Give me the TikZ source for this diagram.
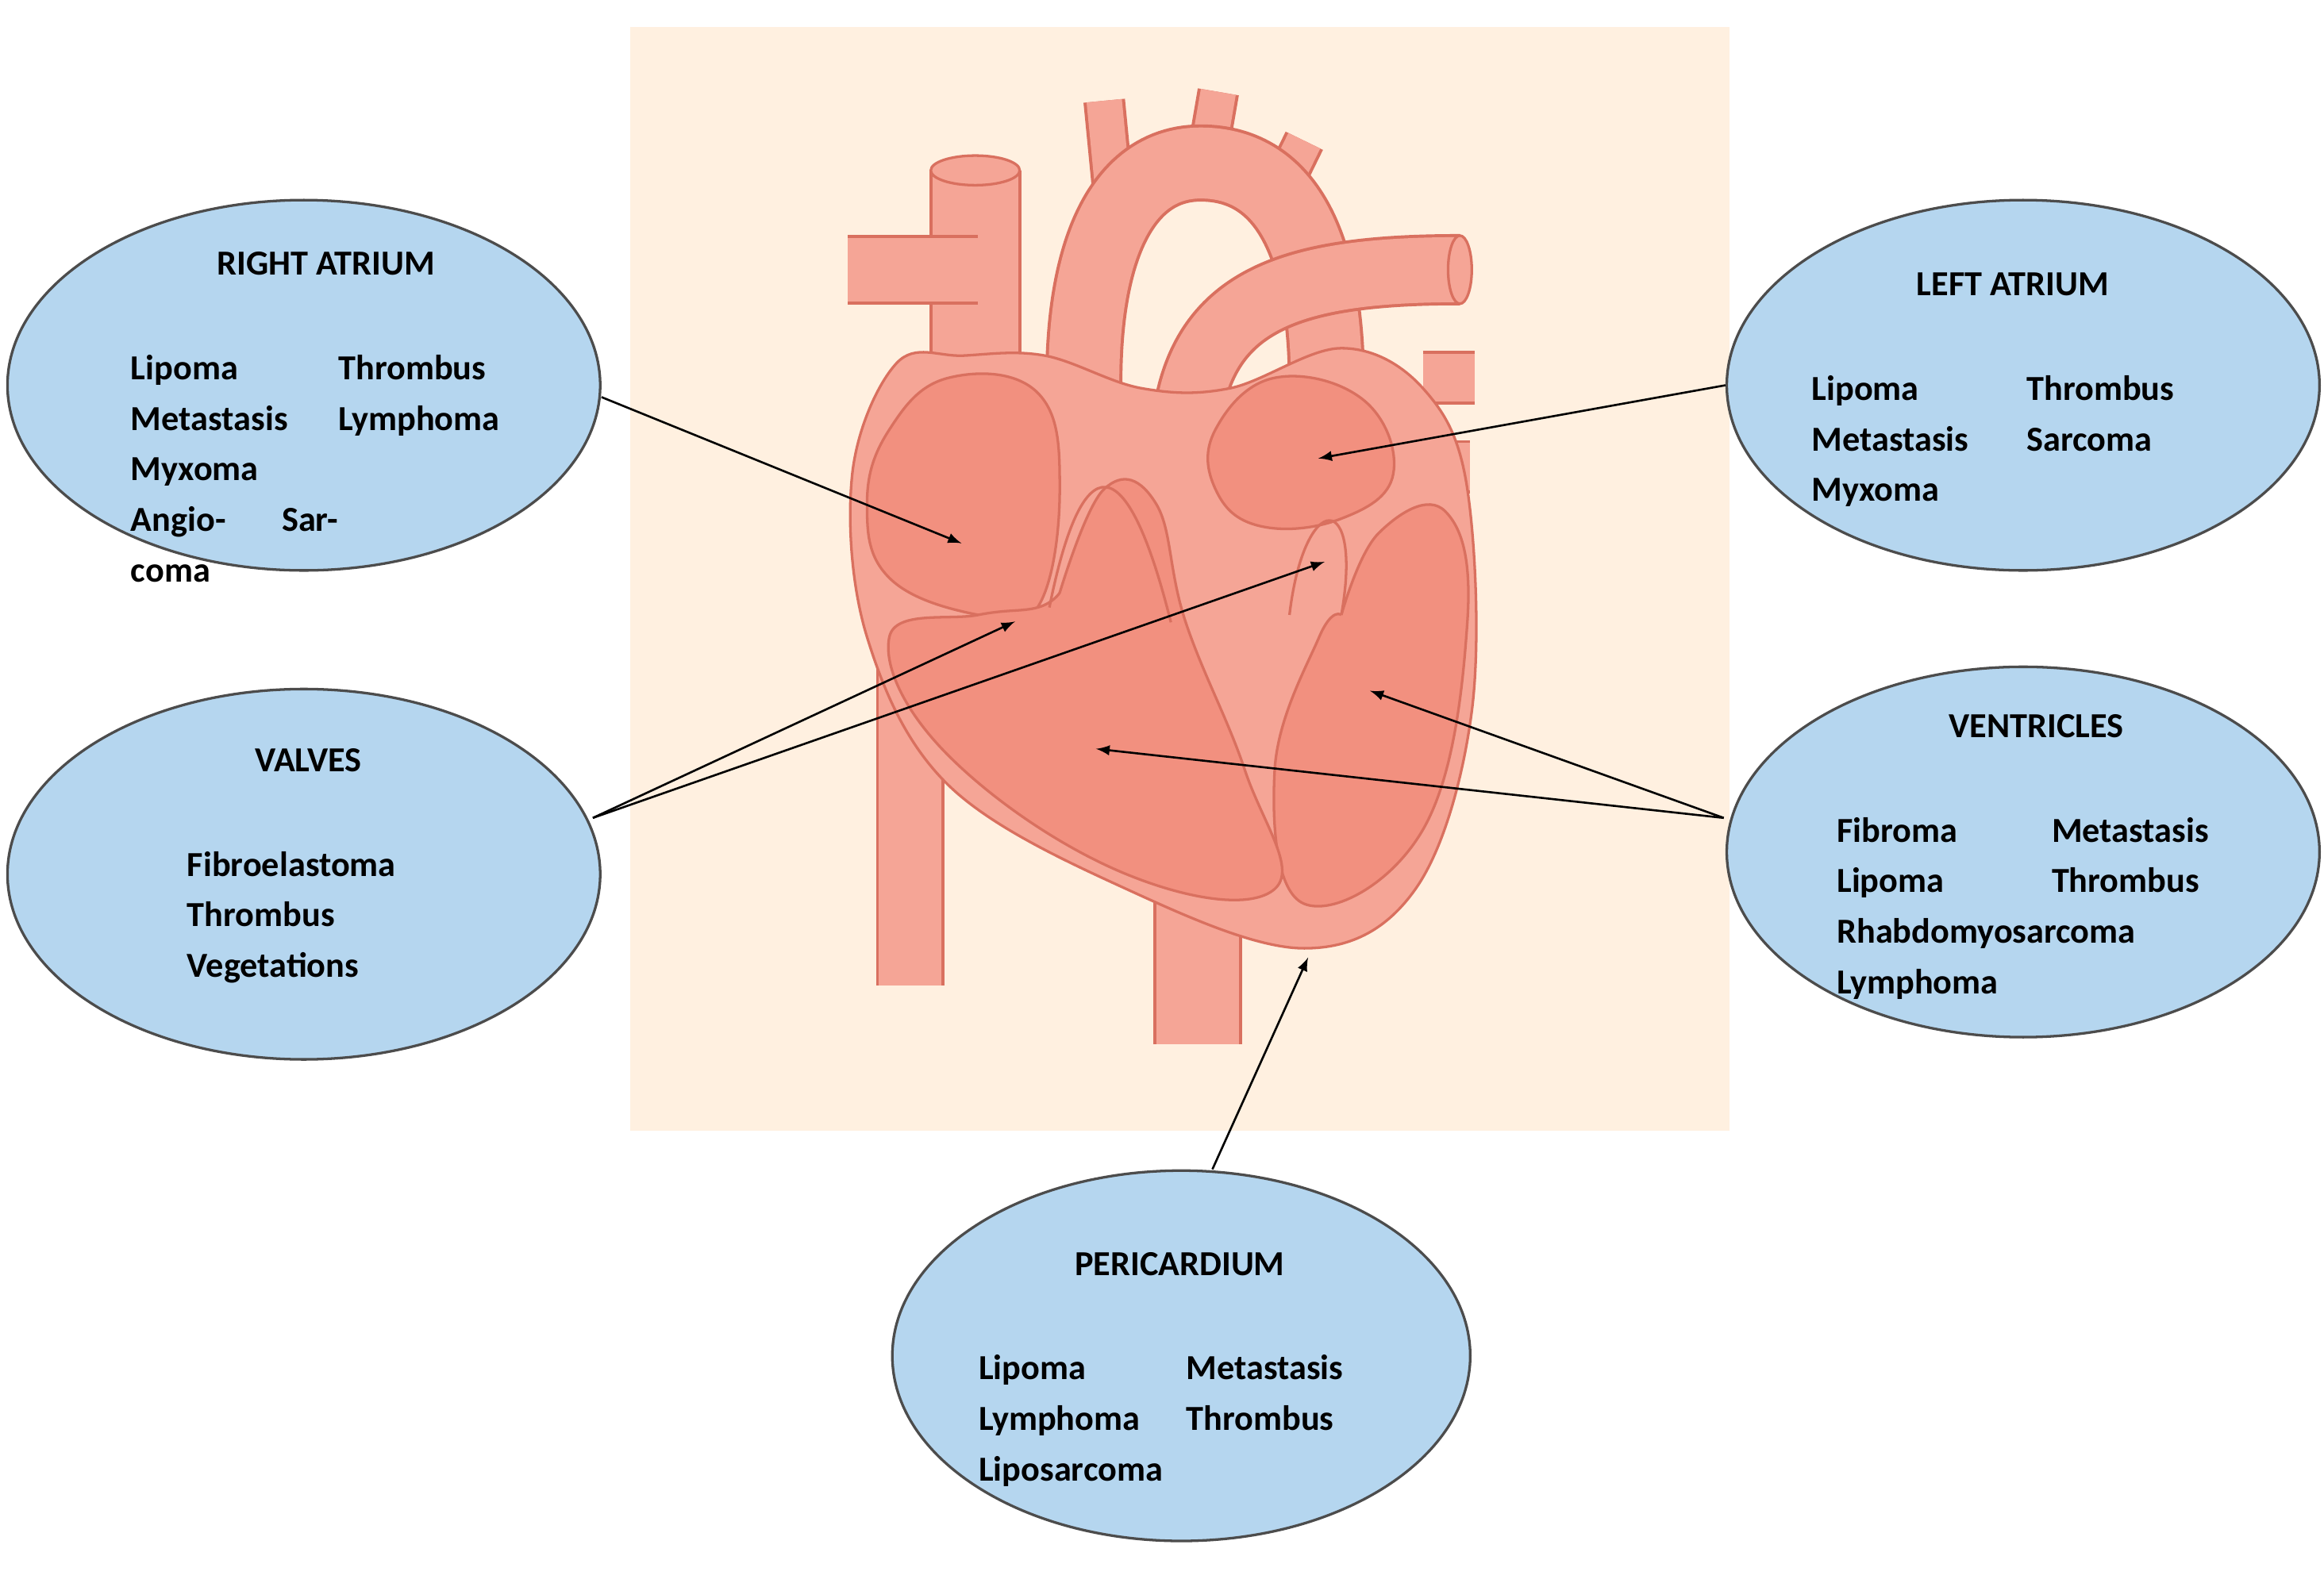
\documentclass[tikz,border=0pt]{standalone}
\usepackage{fontspec}
\setmainfont{Carlito}
\usetikzlibrary{positioning,shapes}
\newcommand{\peach}{orange!12}
\definecolor{flesh}{HTML}{F5A596}
\definecolor{fleshdark}{HTML}{F2907F}
\definecolor{rim}{HTML}{D9705F}
\definecolor{cloud}{HTML}{B5D6EF}
\tikzset{
    blob/.style = { ellipse,draw=black!70,fill=cloud,line width=1pt,minimum width=8cm,minimum height=5cm, },
    write/.style = { font=\bfseries\fontsize{13.5}{19.4}\selectfont,inner sep=0,align=left, },
    title/.style = { font=\bfseries\fontsize{13.5}{16}\selectfont,inner sep=0, },
    arrow/.style = { ->,>=latex,line width=0.8pt,shorten >=2pt, },
    tubeout/.style = { line width=#1*0.569pt+1.2pt,draw=rim, },
    tubein/.style = { line width=#1*0.569pt-1.2pt,draw=flesh, },
    wall/.style = { draw=rim,line width=1pt, },
}
\newcommand{\tube}[2]{
    \draw [tubeout=#1] #2;
    \draw [tubein=#1] #2;
}
\newcommand{\items}[4]{
    \node [write,anchor=north west] at (#1,#2) {\begin{tabular}{@{}p{#3}@{}l@{}}#4\end{tabular}};
}

\begin{document}
\begin{tikzpicture}[x=0.02cm,y=-0.02cm]

    \useasboundingbox (0,0) rectangle (1568,1068);
    \fill [\peach] (425,18) rectangle (1167,763);

    % vessels
    \tube{58}{(808,540) -- (808,705)}
    \tube{44}{(614,420) -- (614,665)}
    \tube{60}{(658,430) -- (658,115)}
    \fill [flesh,draw=rim,line width=1pt] (658,115) ellipse (30 and 10);
    \tube{26}{(752,140) -- (745,68)}
    \tube{26}{(812,120) -- (822,62)}
    \tube{26}{(858,140) -- (880,95)}
    \tube{50}{(740,360) .. controls (715,200) and (745,110) .. (810,110) .. controls (870,110) and (895,170) .. (895,260)}
    \tube{45}{(660,182) -- (572,182)}
    \tube{34}{(960,255) -- (995,255)}
    \tube{34}{(960,315) -- (992,315)}
    \tube{46}{(800,340) .. controls (790,210) and (850,182) .. (985,182)}
    \fill [flesh,draw=rim,line width=1pt] (985,182) ellipse (8 and 23);

    % heart body
    \draw [wall,fill=flesh] plot [smooth cycle,tension=0.6] coordinates {
        (605,245) (575,320) (585,430) (640,530) (760,600) (880,640)
        (955,600) (993,480) (990,330) (960,262) (905,235) (830,262)
        (770,262) (705,240) (650,240)};
    \draw [wall,fill=fleshdark] plot [smooth cycle,tension=0.7] coordinates {
        (600,290) (640,255) (700,265) (715,330) (700,410) (660,415) (600,390) (585,340)};
    \draw [wall,fill=fleshdark] plot [smooth cycle,tension=0.7] coordinates {
        (820,290) (860,255) (920,270) (940,320) (905,350) (850,355) (820,330)};
    \draw [wall,fill=fleshdark] plot [smooth,tension=0.7] coordinates {
        (905,415) (930,360) (975,345) (990,420) (960,560) (880,610) (860,520) (890,430) (905,415)};
    \draw [wall,fill=fleshdark] plot [smooth,tension=0.7] coordinates {
        (715,400) (745,330) (780,340) (800,420) (840,520) (860,600) (760,590) (640,510) (600,430) (660,415) (700,410) (715,400)};
    \draw [wall] (708,410) .. controls (730,300) and (760,300) .. (790,420);
    \draw [wall] (870,415) .. controls (880,330) and (920,330) .. (905,415);

    % labels
    \node [blob] (ra) at (205,260) {};
    \node [title] at (220,178) {RIGHT ATRIUM};
    \items{88}{232}{2.8cm}{Lipoma & Thrombus\\ Metastasis & Lymphoma\\ Myxoma & \\ Angio- Sarcoma &}

    \node [blob] (la) at (1365,260) {};
    \node [title] at (1358,192) {LEFT ATRIUM};
    \items{1222}{246}{2.9cm}{Lipoma & Thrombus\\ Metastasis & Sarcoma\\ Myxoma &}

    \node [blob] (va) at (205,590) {};
    \node [title] at (208,513) {VALVES};
    \items{126}{567}{1cm}{Fibroelastoma &\\ Thrombus &\\ Vegetations &}

    \node [blob] (ve) at (1365,575) {};
    \node [title] at (1374,490) {VENTRICLES};
    \items{1239}{544}{2.9cm}{Fibroma & Metastasis\\ Lipoma & Thrombus\\ Rhabdomyosarcoma &\\ Lymphoma &}

    \node [blob,minimum width=7.8cm] (pe) at (797,915) {};
    \node [title] at (796,853) {PERICARDIUM};
    \items{660}{907}{2.8cm}{Lipoma & Metastasis\\ Lymphoma & Thrombus\\ Liposarcoma &}

    % arrows
    \coordinate (raT) at (652,368);
    \coordinate (laT) at (886,310);
    \coordinate (tvT) at (688,418);
    \coordinate (mvT) at (897,378);
    \coordinate (lvT) at (921,465);
    \coordinate (rvT) at (736,505);
    \coordinate (peT) at (884,643);

    \draw [arrow] (ra.east) ++(0,8) -- (raT);
    \draw [arrow] (la.west) -- (laT);
    \draw [arrow] (400,552) -- (tvT);
    \draw [arrow] (400,552) -- (mvT);
    \draw [arrow] (1163,552) -- (lvT);
    \draw [arrow] (1163,552) -- (rvT);
    \draw [arrow] (pe.north) ++(21,0) -- (peT);

\end{tikzpicture}
\end{document}
